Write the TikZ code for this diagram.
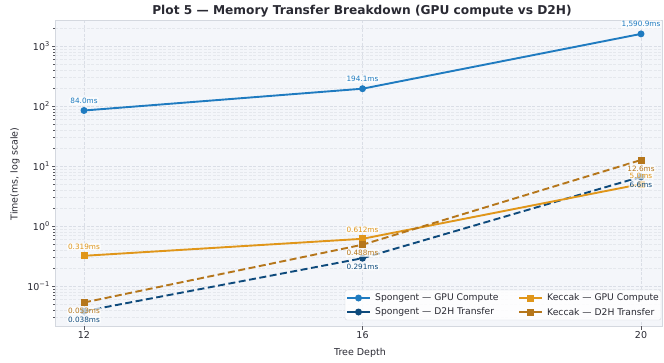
\documentclass[tikz,border=0pt]{standalone}
\usepackage{fontspec}
\setmainfont{DejaVu Sans}
\usetikzlibrary{calc}
\definecolor{spgpu}{HTML}{1F7BC0}
\definecolor{spd2h}{HTML}{0E4A7C}
\definecolor{kcgpu}{HTML}{E0961A}
\definecolor{kcd2h}{HTML}{B5761B}
\definecolor{panel}{HTML}{F4F6FA}
\definecolor{gridc}{HTML}{DADEE6}
\definecolor{framec}{HTML}{D4D8DF}
\definecolor{inkc}{HTML}{2A2A33}
\tikzset{
  majorgrid/.style={draw=gridc, line width=0.6pt, dash pattern=on 3pt off 1.5pt},
  minorgrid/.style={draw=gridc!70, line width=0.4pt, dash pattern=on 3pt off 1.5pt},
  tickmark/.style={draw=inkc!80, line width=0.6pt},
  ticklbl/.style={font=\fontsize{9.5}{11}\selectfont, text=inkc, inner sep=1pt},
  solidser/.style={line width=1.9pt, line join=round},
  dashser/.style={line width=1.9pt, dash pattern=on 7pt off 3.5pt},
  dotmark/.style={circle, inner sep=0pt, minimum size=7pt, fill=#1},
  sqmark/.style={rectangle, inner sep=0pt, minimum size=7pt, fill=#1},
  vallbl/.style={font=\fontsize{7.3}{8}\selectfont, text=#1, fill=white, fill opacity=0.7, text opacity=1, rounded corners=1pt, inner sep=1pt},
  legtxt/.style={font=\fontsize{9.2}{10}\selectfont, text=inkc, anchor=west, inner sep=0pt},
  axtitle/.style={font=\fontsize{9.5}{11}\selectfont, text=inkc},
}
\begin{document}
\begin{tikzpicture}[x=1pt, y=-1pt]
\useasboundingbox (0,0) rectangle (664,362);
\fill[white] (0,0) rectangle (664,362);

% plotting panel
\fill[panel] (55,20) rectangle (662,326);

% grid: minor decades, then major lines
\begin{scope}
\clip (55,20) rectangle (662,326);
\foreach \k in {-2,...,3}{
  \foreach \m in {2,...,9}{
    \pgfmathsetmacro\yy{226-60*(\k+log10(\m))}
    \draw[minorgrid] (55,\yy) -- (662,\yy);
  }
}
\foreach \yy in {46,106,166,226,286}{
  \draw[majorgrid] (55,\yy) -- (662,\yy);
}
\foreach \xx in {84,362.5,641}{
  \draw[majorgrid] (\xx,20) -- (\xx,326);
}
\end{scope}
\draw[framec, line width=0.6pt] (55,20) rectangle (662,326);

% y axis ticks
\foreach \k in {-2,...,3}{
  \foreach \m in {2,...,9}{
    \pgfmathsetmacro\yy{226-60*(\k+log10(\m))}
    \pgfmathparse{(\yy>20)&&(\yy<326)?1:0}
    \ifnum\pgfmathresult=1
      \draw[tickmark, line width=0.4pt] (55,\yy) -- (53,\yy);
    \fi
  }
}
\foreach \yy/\ex in {46/3,106/2,166/1,226/0,286/−1}{
  \draw[tickmark] (55,\yy) -- (51.5,\yy);
  \node[ticklbl, anchor=east] at (51,\yy) {10\textsuperscript{\ex}};
}
% x axis ticks
\foreach \xx/\d in {84/12,362.5/16,641/20}{
  \draw[tickmark] (\xx,326) -- (\xx,329.5);
  \node[ticklbl, anchor=north] at (\xx,330) {\d};
}

% axis titles and heading
\node[axtitle] (xlab) at (360,352.5) {Tree Depth};
\node[axtitle, rotate=90] (ylab) at (15,174) {Time(ms, log scale)};
\node[font=\bfseries\fontsize{12.2}{14}\selectfont, text=inkc] (title) at (362,11) {Plot 5 — Memory Transfer Breakdown (GPU compute vs D2H)};

% data points
\coordinate (sg12) at (84,110.5);
\coordinate (sg16) at (362.5,88.7);
\coordinate (sg20) at (641,33.9);
\coordinate (sd12) at (84,311.2);
\coordinate (sd16) at (362.5,258.2);
\coordinate (sd20) at (641,176.8);
\coordinate (kg12) at (84,255.8);
\coordinate (kg16) at (362.5,238.8);
\coordinate (kg20) at (641,184.1);
\coordinate (kd12) at (84,302.5);
\coordinate (kd16) at (362.5,244.7);
\coordinate (kd20) at (641,160.0);

% series
\draw[solidser, spgpu] (sg12) -- (sg16) -- (sg20);
\draw[dashser, spd2h] (sd12) -- (sd16) -- (sd20);
\draw[solidser, kcgpu] (kg12) -- (kg16) -- (kg20);
\draw[dashser, kcd2h] (kd12) -- (kd16) -- (kd20);

\foreach \p in {sg12,sg16,sg20}{\node[dotmark=spgpu] at (\p) {};}
\foreach \p in {sd12,sd16,sd20}{\node[dotmark=spd2h] at (\p) {};}
\foreach \p in {kg12,kg16,kg20}{\node[sqmark=kcgpu] at (\p) {};}
\foreach \p in {kd12,kd16,kd20}{\node[sqmark=kcd2h] at (\p) {};}

% value labels
\node[vallbl=spgpu] (lsg12) at ($(sg12)+(0,-9.5)$) {84.0ms};
\node[vallbl=spgpu] (lsg16) at ($(sg16)+(0,-9.5)$) {194.1ms};
\node[vallbl=spgpu] (lsg20) at ($(sg20)+(0,-9.5)$) {1,590.9ms};
\node[vallbl=kcgpu] (lkg12) at ($(kg12)+(0,-9)$) {0.319ms};
\node[vallbl=kcgpu] (lkg16) at ($(kg16)+(0,-9)$) {0.612ms};
\node[vallbl=kcgpu] (lkg20) at ($(kg20)+(0,-8.5)$) {5.0ms};
\node[vallbl=kcd2h] (lkd12) at ($(kd12)+(0,8.5)$) {0.053ms};
\node[vallbl=kcd2h] (lkd16) at ($(kd16)+(0,8.5)$) {0.488ms};
\node[vallbl=kcd2h] (lkd20) at ($(kd20)+(0,8.5)$) {12.6ms};
\node[vallbl=spd2h] (lsd12) at ($(sd12)+(0,8.5)$) {0.038ms};
\node[vallbl=spd2h] (lsd16) at ($(sd16)+(0,8.5)$) {0.291ms};
\node[vallbl=spd2h] (lsd20) at ($(sd20)+(0,8)$) {6.6ms};

% legend
\node[draw=framec, fill=white, fill opacity=0.85, rounded corners=2pt, minimum width=316pt, minimum height=30pt, inner sep=0pt] (legend) at (503,305) {};
\draw[solidser, spgpu] (347,298) -- (370,298);
\node[dotmark=spgpu] at (358.5,298) {};
\node[legtxt] at (375,298) {Spongent — GPU Compute};
\draw[dashser, spd2h, dash pattern=on 12pt off 0pt] (347,312) -- (370,312);
\node[dotmark=spd2h] at (358.5,312) {};
\node[legtxt] at (375,312) {Spongent — D2H Transfer};
\draw[solidser, kcgpu] (519,298) -- (542,298);
\node[sqmark=kcgpu] at (530.5,298) {};
\node[legtxt] at (547,298) {Keccak — GPU Compute};
\draw[dashser, kcd2h, dash pattern=on 12pt off 0pt] (519,312) -- (542,312);
\node[sqmark=kcd2h] at (530.5,312) {};
\node[legtxt] at (547,312) {Keccak — D2H Transfer};
\end{tikzpicture}
\end{document}
